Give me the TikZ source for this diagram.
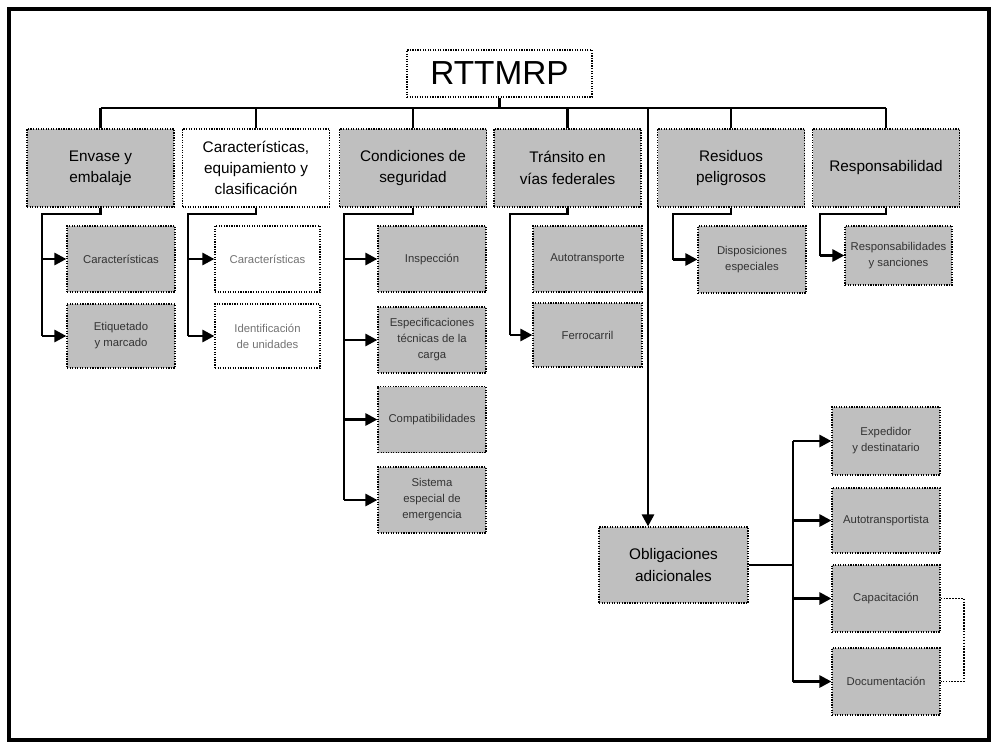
\documentclass[tikz,border=0pt]{standalone}
\usepackage{fontspec}
\setmainfont{Liberation Sans}
\usetikzlibrary{arrows.meta}
\tikzset{
  frame/.style={line width=2.6pt},
  conn/.style={line width=2.1pt},
  arr/.style={line width=2.1pt,-{Triangle[length=9pt,width=9pt]}},
  linkdot/.style={line width=1.2pt,densely dotted},
  boxbase/.style={draw=black,densely dotted,line width=0.9pt,align=center,inner sep=1pt},
  rootbox/.style={boxbase,fill=white,minimum width=138.75pt,minimum height=35.25pt,font=\fontsize{25}{28}\selectfont},
  topbox/.style={boxbase,fill=black!25,minimum width=110.25pt,minimum height=58.5pt,font=\fontsize{11.5}{16}\selectfont},
  topwhite/.style={topbox,fill=white},
  subbox/.style={boxbase,fill=black!25,minimum width=81pt,minimum height=49.5pt,font=\fontsize{8.5}{12}\selectfont,text=black!80},
  subwhite/.style={subbox,fill=white,text=black!55},
}
\begin{document}
\begin{tikzpicture}[x=0.75pt,y=-0.75pt]
\useasboundingbox (0,0) rectangle (997,747);
\draw[frame] (9,9) rectangle (989,740);

% root
\node[rootbox] (root) at (499.5,73.5) {RTTMRP};

% level 1
\node[topbox]   (b1) at (100.5,168) {Envase y\\embalaje};
\node[topwhite] (b2) at (256,168) {Características,\\equipamiento y\\clasificación};
\node[topbox]   (b3) at (413,168) {Condiciones de\\seguridad};
\node[topbox]   (b4) at (567.5,168) {Tránsito en\\vías federales};
\node[topbox]   (b5) at (731,168) {Residuos\\peligrosos};
\node[topbox]   (b6) at (886,168) {Responsabilidad};

% bus
\coordinate (busL) at (100.5,108);
\coordinate (busR) at (886,108);
\coordinate (vtop) at (648,108);
\draw[conn] (busL) -- (busR);
\draw[conn] (root.south) -- (root.south |- busL);
\foreach \b in {b1,b2,b3,b4,b5,b6}{\draw[conn] (\b.north) -- (\b.north |- busL);}

% column 1
\node[subbox] (s11) at (121,259) {Características};
\node[subbox,minimum height=48pt] (s12) at (121,336) {Etiquetado\\y marcado};
\coordinate (c1) at (42,214);
\draw[conn] (b1.south) -- (b1.south |- c1) -- (c1) -- (c1 |- s12.west);
\draw[arr] (c1 |- s11.west) -- (s11.west);
\draw[arr] (c1 |- s12.west) -- (s12.west);

% column 2
\node[subwhite,minimum width=78.75pt] (s21) at (267.5,259) {Características};
\node[subwhite,minimum width=78.75pt,minimum height=48pt] (s22) at (267.5,336) {Identificación\\de unidades};
\coordinate (c2) at (188,214);
\draw[conn] (b2.south) -- (b2.south |- c2) -- (c2) -- (c2 |- s22.west);
\draw[arr] (c2 |- s21.west) -- (s21.west);
\draw[arr] (c2 |- s22.west) -- (s22.west);

% column 3
\node[subbox] (s31) at (432,259) {Inspección};
\node[subbox] (s32) at (432,340) {Especificaciones\\técnicas de la\\carga};
\node[subbox] (s33) at (432,419.5) {Compatibilidades};
\node[subbox] (s34) at (432,500) {Sistema\\especial de\\emergencia};
\coordinate (c3) at (344,214);
\draw[conn] (b3.south) -- (b3.south |- c3) -- (c3) -- (c3 |- s34.west);
\foreach \s in {s31,s32,s33,s34}{\draw[arr] (c3 |- \s.west) -- (\s.west);}

% column 4
\node[subbox,minimum width=81.75pt] (s41) at (587.5,259) {Autotransporte};
\node[subbox,minimum width=81.75pt,minimum height=48pt] (s42) at (587.5,335) {Ferrocarril};
\coordinate (c4) at (510,214);
\draw[conn] (b4.south) -- (b4.south |- c4) -- (c4) -- (c4 |- s42.west);
\draw[arr] (c4 |- s42.west) -- (s42.west);

% column 5
\node[subbox,minimum height=50.25pt] (s51) at (752,259.5) {Disposiciones\\especiales};
\coordinate (c5) at (673,214);
\draw[conn] (b5.south) -- (b5.south |- c5) -- (c5) -- (c5 |- s51.west);
\draw[arr] (c5 |- s51.west) -- (s51.west);

% column 6
\node[subbox,minimum width=80.25pt,minimum height=44.25pt] (s61) at (898.5,255.5) {Responsabilidades\\y sanciones};
\coordinate (c6) at (820,214);
\draw[conn] (b6.south) -- (b6.south |- c6) -- (c6) -- (c6 |- s61.west);
\draw[arr] (c6 |- s61.west) -- (s61.west);

% obligaciones
\node[topbox,minimum width=111.75pt,minimum height=57pt] (ob) at (673.5,565) {Obligaciones\\adicionales};
\draw[arr] (vtop) -- (vtop |- ob.north);
\node[subbox,minimum height=51pt] (o1) at (886,441) {Expedidor\\y destinatario};
\node[subbox,minimum height=48.75pt] (o2) at (886,520.5) {Autotransportista};
\node[subbox,minimum height=50.25pt] (o3) at (886,598.5) {Capacitación};
\node[subbox,minimum height=50.25pt] (o4) at (886,681.5) {Documentación};
\coordinate (sp) at (793,565);
\draw[conn] (ob.east) -- (sp);
\draw[conn] (sp |- o1.west) -- (sp |- o4.west);
\foreach \o in {o1,o2,o3,o4}{\draw[arr] (sp |- \o.west) -- (\o.west);}
\coordinate (dk) at (964,600);
\draw[linkdot] (o3.east) -- (dk |- o3.east) -- (dk |- o4.east) -- (o4.east);
\end{tikzpicture}
\end{document}
